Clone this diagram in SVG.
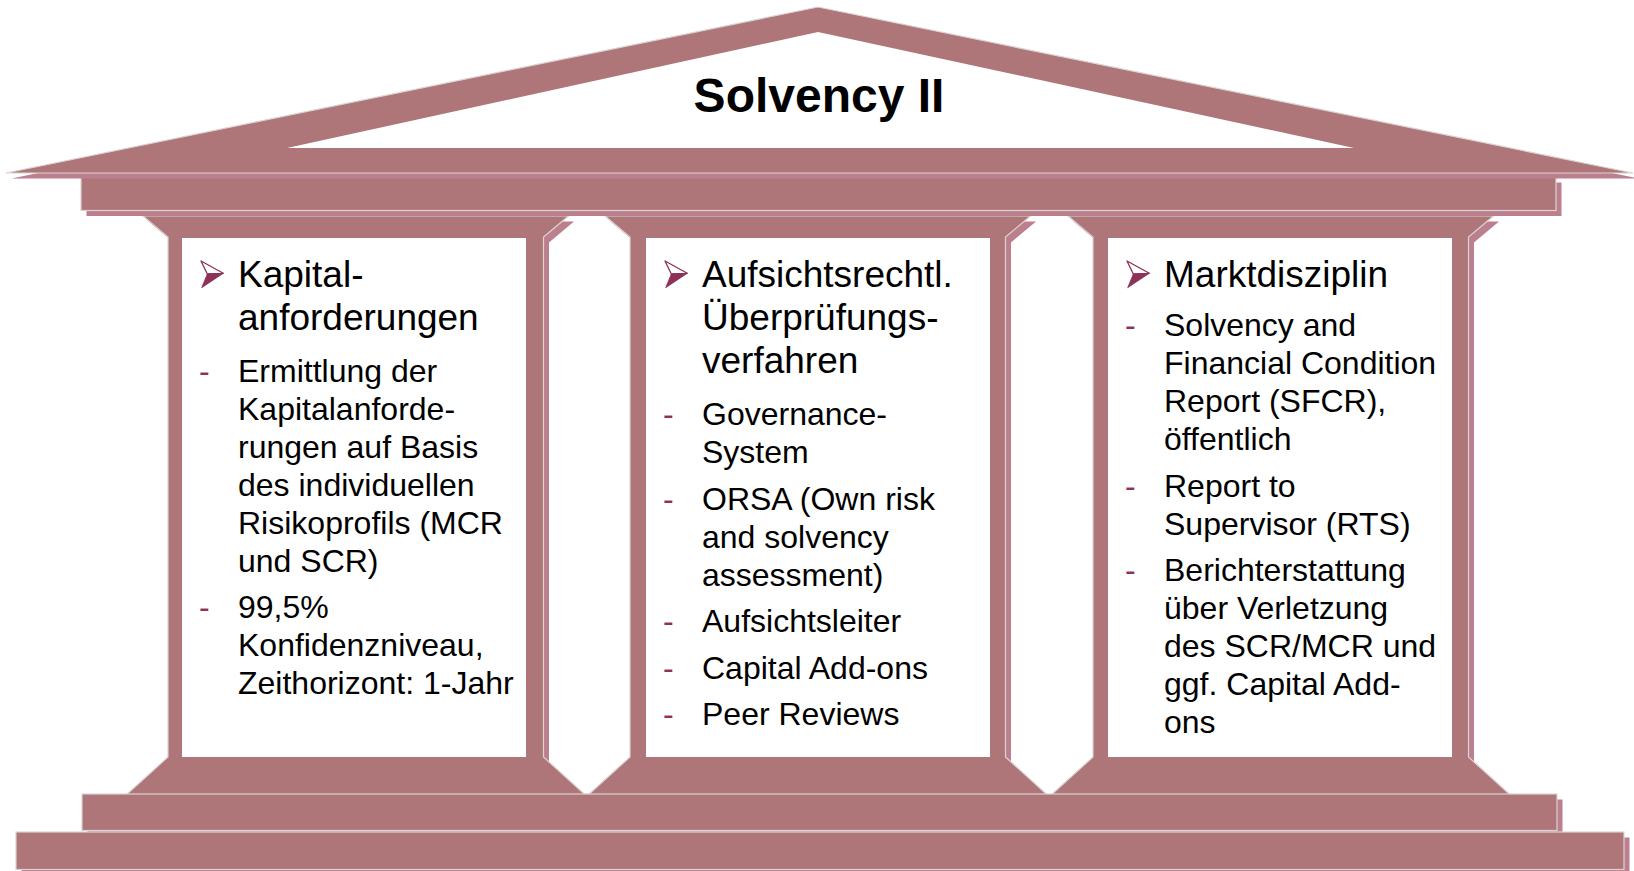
<svg xmlns="http://www.w3.org/2000/svg" xmlns:xlink="http://www.w3.org/1999/xlink" width="1634" height="871" viewBox="0 0 1634 871">
  <style>
    .main { fill: #AE7679; stroke: #DCD3D3; stroke-width: 1.2; }
    .shadow { fill: #BC7F8E; stroke: none; }
    .panel { fill: #FFFFFF; stroke: none; }
    .title { font-family: "Liberation Sans", Arial, sans-serif; font-weight: bold; font-size: 48px; fill: #000000; }
    .head { font-family: "Liberation Sans", Arial, sans-serif; font-size: 37px; fill: #000000; }
    .item { font-family: "Liberation Sans", Arial, sans-serif; font-size: 32px; fill: #000000; }
    .dash { font-family: "Liberation Sans", Arial, sans-serif; font-size: 32px; fill: #8E3158; }
  </style>
  <defs>
    <!-- column outline: capital, shaft and base -->
    <polygon id="column-shape" points="-25,216 400.5,216 375.5,237 375.5,757 418.5,796 -43,796 0,757 0,237"/>
    <!-- 3D arrowhead bullet -->
    <g id="arrow">
      <polygon points="0,0 22.3,12.3 6.3,13" fill="#FFFFFF" stroke="#8E3158" stroke-width="1.3" stroke-linejoin="round"/>
      <polygon points="6.3,13 22.3,12.3 0.7,26.7" fill="#8E3158" stroke="#8E3158" stroke-width="0.8" stroke-linejoin="round"/>
    </g>
  </defs>

  <rect x="0" y="0" width="1634" height="871" fill="#FFFFFF"/>

  <!-- pillars -->
  <g id="pillar-1">
    <use xlink:href="#column-shape" class="shadow" transform="translate(173.5,5.5)"/>
    <use xlink:href="#column-shape" class="main" transform="translate(168,0)"/>
    <rect class="panel" x="182" y="238" width="344" height="519"/>
  </g>
  <g id="pillar-2">
    <use xlink:href="#column-shape" class="shadow" transform="translate(635.5,5.5)"/>
    <use xlink:href="#column-shape" class="main" transform="translate(630,0)"/>
    <rect class="panel" x="646" y="238" width="344" height="519"/>
  </g>
  <g id="pillar-3">
    <use xlink:href="#column-shape" class="shadow" transform="translate(1098.5,5.5)"/>
    <use xlink:href="#column-shape" class="main" transform="translate(1093,0)"/>
    <rect class="panel" x="1108" y="238" width="344" height="519"/>
  </g>

  <!-- entablature beam -->
  <g id="beam">
    <rect class="shadow" x="86.5" y="182.5" width="1475" height="33.5"/>
    <rect class="main" x="81" y="177" width="1475" height="33.5"/>
  </g>

  <!-- roof / pediment -->
  <g id="roof">
    <polygon class="shadow" points="11.5,178.5 823.5,12.5 1638.5,178.5"/>
    <polygon class="main" points="6,173 818,7 1633,173"/>
    <polygon fill="#FFFFFF" points="287,148 818,32 1354,148"/>
    <text class="title" x="819" y="112" text-anchor="middle">Solvency II</text>
  </g>

  <!-- steps -->
  <g id="step-1">
    <rect class="shadow" x="87.5" y="799.5" width="1475" height="36.5"/>
    <rect class="main" x="82" y="794" width="1475" height="36.5"/>
  </g>
  <g id="step-2">
    <rect class="shadow" x="21.5" y="837.5" width="1608" height="40"/>
    <rect class="main" x="16" y="832" width="1608" height="37.5"/>
  </g>

  <!-- pillar 1 text -->
  <g id="text-1">
    <use xlink:href="#arrow" transform="translate(201,261)"/>
    <text class="head" x="238" y="287">Kapital-</text>
    <text class="head" x="238" y="330">anforderungen</text>
    <text class="dash" x="199" y="381.5">-</text>
    <text class="item" x="238" y="381.5">Ermittlung der</text>
    <text class="item" x="238" y="419.5">Kapitalanforde-</text>
    <text class="item" x="238" y="457.5">rungen auf Basis</text>
    <text class="item" x="238" y="495.5">des individuellen</text>
    <text class="item" x="238" y="533.5">Risikoprofils (MCR</text>
    <text class="item" x="238" y="571.5">und SCR)</text>
    <text class="dash" x="199" y="618">-</text>
    <text class="item" x="238" y="618">99,5%</text>
    <text class="item" x="238" y="656">Konfidenzniveau,</text>
    <text class="item" x="238" y="694">Zeithorizont: 1-Jahr</text>
  </g>

  <!-- pillar 2 text -->
  <g id="text-2">
    <use xlink:href="#arrow" transform="translate(665,261)"/>
    <text class="head" x="702" y="287">Aufsichtsrechtl.</text>
    <text class="head" x="702" y="330">Überprüfungs-</text>
    <text class="head" x="702" y="373">verfahren</text>
    <text class="dash" x="663" y="425">-</text>
    <text class="item" x="702" y="425">Governance-</text>
    <text class="item" x="702" y="463">System</text>
    <text class="dash" x="663" y="509.5">-</text>
    <text class="item" x="702" y="509.5">ORSA (Own risk</text>
    <text class="item" x="702" y="547.5">and solvency</text>
    <text class="item" x="702" y="585.5">assessment)</text>
    <text class="dash" x="663" y="632">-</text>
    <text class="item" x="702" y="632">Aufsichtsleiter</text>
    <text class="dash" x="663" y="678.5">-</text>
    <text class="item" x="702" y="678.5">Capital Add-ons</text>
    <text class="dash" x="663" y="725">-</text>
    <text class="item" x="702" y="725">Peer Reviews</text>
  </g>

  <!-- pillar 3 text -->
  <g id="text-3">
    <use xlink:href="#arrow" transform="translate(1127,261)"/>
    <text class="head" x="1164" y="287">Marktdisziplin</text>
    <text class="dash" x="1125" y="336">-</text>
    <text class="item" x="1164" y="336">Solvency and</text>
    <text class="item" x="1164" y="374">Financial Condition</text>
    <text class="item" x="1164" y="412">Report (SFCR),</text>
    <text class="item" x="1164" y="450">öffentlich</text>
    <text class="dash" x="1125" y="496.5">-</text>
    <text class="item" x="1164" y="496.5">Report to</text>
    <text class="item" x="1164" y="534.5">Supervisor (RTS)</text>
    <text class="dash" x="1125" y="581">-</text>
    <text class="item" x="1164" y="581">Berichterstattung</text>
    <text class="item" x="1164" y="619">über Verletzung</text>
    <text class="item" x="1164" y="657">des SCR/MCR und</text>
    <text class="item" x="1164" y="695">ggf. Capital Add-</text>
    <text class="item" x="1164" y="733">ons</text>
  </g>
</svg>
